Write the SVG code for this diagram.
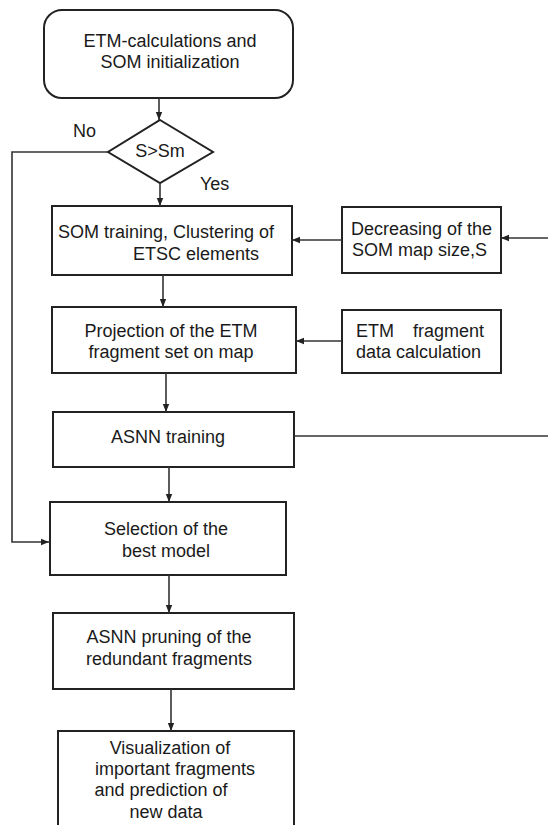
<svg xmlns="http://www.w3.org/2000/svg" width="548" height="825" viewBox="0 0 548 825">
<defs>
<marker id="ah" viewBox="0 0 10 10" refX="10" refY="5" markerWidth="8" markerHeight="8" markerUnits="userSpaceOnUse" orient="auto">
<path d="M0,1 L10,5 L0,9 Z" fill="#222"/>
</marker>
<style>
.box{fill:#fff;stroke:#222;stroke-width:2}
.t{font-family:"Liberation Sans",Arial,sans-serif;font-size:18px;fill:#1a1a1a;text-anchor:middle}
.tl{font-family:"Liberation Sans",Arial,sans-serif;font-size:18px;fill:#1a1a1a}
.c{fill:none;stroke:#333;stroke-width:1.6}
</style>
</defs>
<rect width="548" height="825" fill="#fff"/>
<g id="start">
<rect class="box" x="44" y="10" width="249" height="88" rx="18"/>
<text class="t" x="170" y="47">ETM-calculations and</text>
<text class="t" x="170" y="68">SOM initialization</text>
</g>
<g id="decision">
<polygon class="box" points="160,120 213,152 160,183 108,152"/>
<text class="t" x="160" y="157">S&gt;Sm</text>
<text class="tl" x="73" y="137">No</text>
<text class="tl" x="200" y="190">Yes</text>
</g>
<g id="som">
<rect class="box" x="52" y="206" width="240" height="69"/>
<text class="tl" x="58" y="238">SOM training, Clustering of</text>
<text class="tl" x="133" y="260">ETSC elements</text>
</g>
<g id="decrease">
<rect class="box" x="342" y="207" width="159" height="66"/>
<text class="tl" x="351" y="235">Decreasing of the</text>
<text class="tl" x="352" y="256">SOM map size,S</text>
</g>
<g id="projection">
<rect class="box" x="52" y="307" width="244" height="66"/>
<text class="t" x="171" y="337">Projection of the ETM</text>
<text class="t" x="171" y="358">fragment set on map</text>
</g>
<g id="etmfrag">
<rect class="box" x="342" y="310" width="159" height="63"/>
<text class="tl" x="356" y="337">ETM</text>
<text class="tl" x="484" y="337" text-anchor="end">fragment</text>
<text class="tl" x="356" y="358">data calculation</text>
</g>
<g id="asnn">
<rect class="box" x="53" y="412" width="241" height="55"/>
<text class="t" x="168" y="443">ASNN training</text>
</g>
<g id="selection">
<rect class="box" x="50" y="502" width="236" height="73"/>
<text class="t" x="166" y="535">Selection of the</text>
<text class="t" x="166" y="557">best model</text>
</g>
<g id="pruning">
<rect class="box" x="53" y="613" width="241" height="76"/>
<text class="t" x="169" y="643">ASNN pruning of the</text>
<text class="t" x="169" y="665">redundant fragments</text>
</g>
<g id="visual">
<rect class="box" x="58" y="731" width="236" height="110"/>
<text class="t" x="170" y="754">Visualization of</text>
<text class="t" x="175" y="775">important fragments</text>
<text class="t" x="161" y="796">and prediction of</text>
<text class="t" x="166" y="818">new data</text>
</g>
<g id="connectors">
<line class="c" x1="159" y1="98" x2="159" y2="120" marker-end="url(#ah)"/>
<line class="c" x1="160" y1="183" x2="160" y2="206" marker-end="url(#ah)"/>
<polyline class="c" points="108,152 12,152 12,542 49,542" marker-end="url(#ah)"/>
<line class="c" x1="548" y1="238" x2="501" y2="238" marker-end="url(#ah)"/>
<line class="c" x1="342" y1="240" x2="292" y2="240" marker-end="url(#ah)"/>
<line class="c" x1="163" y1="275" x2="163" y2="307" marker-end="url(#ah)"/>
<line class="c" x1="342" y1="341" x2="296" y2="341" marker-end="url(#ah)"/>
<line class="c" x1="166" y1="373" x2="166" y2="412" marker-end="url(#ah)"/>
<line class="c" x1="294" y1="436" x2="548" y2="436"/>
<line class="c" x1="169" y1="467" x2="169" y2="502" marker-end="url(#ah)"/>
<line class="c" x1="169" y1="575" x2="169" y2="613" marker-end="url(#ah)"/>
<line class="c" x1="171" y1="689" x2="171" y2="731" marker-end="url(#ah)"/>
</g>
</svg>
